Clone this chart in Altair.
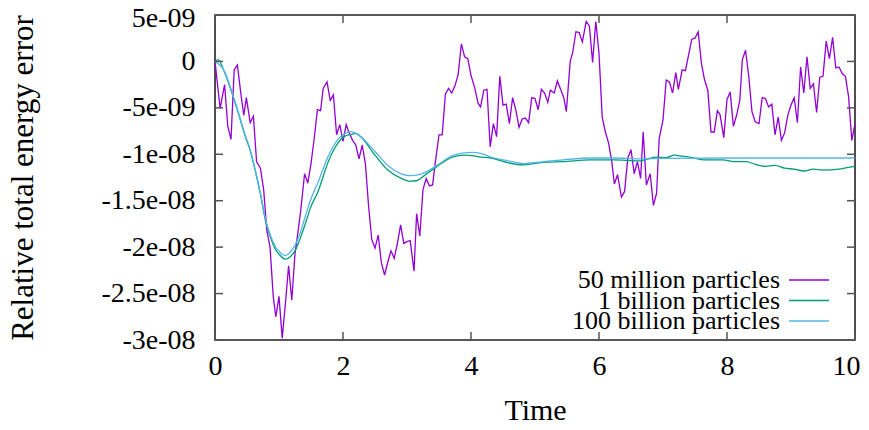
import altair as alt
import pandas as pd

# ---- data (values in units of 1e-9) ----
t50 = [0.00,0.08,0.15,0.20,0.25,0.30,0.35,0.41,0.45,0.49,0.55,0.60,0.65,0.71,0.76,0.81,0.86,0.91,0.95,1.00,
       1.05,1.10,1.15,1.20,1.25,1.30,1.34,1.40,1.45,1.50,1.55,1.60,1.65,1.69,1.75,1.80,1.85,1.90,1.95,2.00,
       2.05,2.09,2.15,2.20,2.25,2.30,2.35,2.40,2.45,2.50,2.55,2.60,2.65,2.70,2.75,2.80,2.85,2.90,2.95,3.00,
       3.05,3.11,3.15,3.20,3.25,3.30,3.35,3.40,3.44,3.50,3.55,3.60,3.65,3.70,3.75,3.80,3.85,3.90,3.95,4.00,
       4.06,4.11,4.15,4.20,4.25,4.30,4.35,4.40,4.45,4.50,4.55,4.60,4.65,4.70,4.75,4.80,4.85,4.90,4.95,5.00,
       5.05,5.10,5.15,5.20,5.24,5.30,5.35,5.40,5.45,5.49,5.55,5.59,5.64,5.69,5.74,5.80,5.85,5.90,5.95,6.00,
       6.05,6.10,6.15,6.20,6.24,6.29,6.35,6.40,6.45,6.50,6.55,6.60,6.65,6.69,6.74,6.80,6.85,6.90,6.94,7.00,
       7.05,7.10,7.15,7.20,7.24,7.30,7.35,7.40,7.45,7.50,7.55,7.60,7.65,7.70,7.75,7.80,7.85,7.89,7.95,8.00,
       8.05,8.10,8.15,8.20,8.24,8.29,8.34,8.39,8.44,8.50,8.55,8.60,8.65,8.70,8.75,8.80,8.85,8.90,8.95,9.00,
       9.05,9.10,9.15,9.20,9.25,9.30,9.35,9.40,9.45,9.50,9.55,9.60,9.65,9.70,9.75,9.80,9.85,9.90,9.95,10.00]
v50 = [0.0,-5.05,-2.5,-7.0,-8.4,-0.9,-0.4,-3.8,-5.8,-3.9,-6.6,-5.9,-10.8,-11.5,-13.8,-18.2,-20.0,-25.3,-27.5,-25.3,
       -29.8,-26.1,-22.0,-25.7,-20.7,-18.2,-16.0,-12.1,-13.1,-11.0,-8.3,-5.2,-5.3,-2.9,-2.2,-4.2,-3.6,-7.9,-6.8,-8.6,
       -6.8,-7.6,-8.5,-9.0,-10.5,-9.0,-11.0,-15.6,-19.2,-20.1,-18.7,-21.7,-23.0,-21.6,-20.4,-21.2,-19.6,-17.6,-19.6,-19.4,
       -19.3,-22.6,-16.4,-18.8,-13.8,-12.6,-13.4,-13.3,-11.0,-7.9,-7.9,-3.5,-2.9,-3.4,-2.6,-1.4,1.9,0.5,0.3,-1.5,
       -2.9,-4.5,-4.9,-3.1,-3.0,-9.2,-6.7,-8.1,-1.6,-4.7,-4.6,-6.7,-3.9,-5.2,-7.1,-6.2,-6.1,-6.6,-3.9,-4.0,
       -5.2,-3.0,-3.4,-4.4,-3.1,-3.4,-2.1,-3.0,-3.9,-5.4,0.0,1.0,3.2,3.1,2.1,4.3,3.8,-0.1,4.3,0.9,
       -6.0,-7.6,-8.8,-10.8,-13.2,-12.2,-14.6,-14.0,-10.4,-9.5,-12.1,-10.8,-12.6,-7.6,-13.3,-12.1,-15.5,-14.2,-8.3,-6.3,
       -2.0,-2.2,-3.4,-1.2,-3.0,-0.9,-1.0,0.7,2.4,2.5,3.2,-0.2,-2.0,-3.1,-7.6,-7.6,-5.3,-5.7,-8.2,-4.1,
       -3.3,-7.0,-5.8,-4.2,0.2,1.2,-1.6,-5.4,-6.5,-6.7,-3.9,-4.0,-4.9,-4.6,-7.9,-6.0,-8.5,-7.7,-5.8,-4.7,
       -3.9,-6.6,-0.6,-3.4,0.5,-2.9,-2.4,-5.5,-1.7,-1.6,2.2,0.3,2.6,-0.7,-0.6,-1.3,-1.6,-3.8,-8.5,-6.7]

t1b = [0.00,0.05,0.15,0.27,0.37,0.47,0.55,0.63,0.71,0.79,0.87,0.94,1.02,1.10,1.18,1.25,1.33,1.41,1.49,1.61,
       1.77,1.92,2.02,2.13,2.20,2.29,2.50,2.70,2.91,3.05,3.15,3.27,3.47,3.71,3.90,4.02,4.15,4.31,4.57,4.83,
       4.98,5.20,5.44,5.86,6.22,6.64,6.89,7.05,7.18,7.30,7.41,7.67,7.93,8.14,8.30,8.45,8.60,8.75,8.90,9.05,
       9.20,9.35,9.50,9.75,9.90,10.00]
v1b = [0.0,0.2,-1.2,-3.5,-5.7,-8.0,-9.6,-11.8,-14.3,-17.2,-19.0,-20.2,-20.9,-21.3,-21.0,-20.4,-19.1,-17.5,-15.8,-14.0,
       -10.8,-8.8,-8.1,-7.85,-7.75,-8.2,-10.1,-11.7,-12.6,-12.9,-12.85,-12.3,-11.3,-10.3,-10.1,-10.15,-10.3,-10.4,-10.9,-11.15,
       -11.0,-10.85,-10.8,-10.6,-10.6,-10.7,-10.3,-10.35,-10.1,-10.2,-10.3,-10.6,-10.6,-10.8,-10.8,-11.1,-11.3,-11.2,-11.5,-11.6,
       -11.8,-11.6,-11.7,-11.6,-11.4,-11.3]

t100b = [0.00,0.15,0.27,0.37,0.47,0.55,0.63,0.71,0.79,0.87,0.94,1.02,1.10,1.18,1.25,1.33,1.41,1.49,1.61,1.77,
         1.92,2.02,2.13,2.29,2.50,2.70,2.91,3.05,3.15,3.27,3.47,3.71,3.85,4.02,4.15,4.31,4.57,4.83,4.98,5.20,
         5.44,5.86,6.22,6.64,7.00,8.00,9.00,10.00]
v100b = [0.0,-1.1,-3.4,-5.6,-7.9,-9.5,-11.7,-14.2,-17.0,-18.8,-19.9,-20.6,-20.9,-20.5,-19.8,-18.5,-16.7,-15.0,-13.0,-10.2,
         -8.4,-7.8,-7.55,-8.2,-9.7,-11.2,-12.1,-12.3,-12.25,-12.0,-11.2,-10.15,-9.9,-9.8,-9.9,-10.3,-10.7,-11.0,-10.9,-10.75,
         -10.6,-10.4,-10.4,-10.5,-10.45,-10.4,-10.4,-10.4]

series_names = ["50 million particles", "1 billion particles", "100 billion particles"]
series_colors = ["#9400D3", "#009E73", "#56B4E9"]

x_ticks = [0, 2, 4, 6, 8, 10]
y_ticks = [5e-09, 0, -5e-09, -1e-08, -1.5e-08, -2e-08, -2.5e-08, -3e-08]
y_tick_labels = ["5e-09", "0", "-5e-09", "-1e-08", "-1.5e-08", "-2e-08", "-2.5e-08", "-3e-08"]

W, H = 640, 325
FONT = "Liberation Serif"

def frame(ts, vs):
    return pd.DataFrame({"t": ts, "v": [v * 1e-9 for v in vs]})

xscale = alt.Scale(domain=[0, 10], nice=False, zero=False)
yscale = alt.Scale(domain=[-3e-08, 5e-09], nice=False, zero=False)

label_expr = "".join(
    f"abs(datum.value - ({v})) < 1e-12 ? '{l}' : " for v, l in zip(y_ticks, y_tick_labels)
) + "''"

xaxis = alt.Axis(values=x_ticks, title="Time", ticks=False, tickSize=0, domain=False, grid=False,
                 labelFlush=False,
                 labelOffset={"condition": {"test": "datum.value > 9", "value": -9}, "value": 0},
                 labelFont=FONT, labelFontSize=28, labelPadding=12, labelColor="black",
                 titleFont=FONT, titleFontSize=30, titleFontWeight="normal", titleColor="black",
                 titleY=70, titleBaseline="middle")
yaxis = alt.Axis(values=y_ticks, title="Relative total energy error", ticks=False, tickSize=0,
                 domain=False, grid=False, labelExpr=label_expr, labelFlush=False,
                 labelOffset={"condition": {"test": "datum.value > 4e-9", "value": 3}, "value": 0},
                 labelFont=FONT, labelFontSize=28, labelPadding=20, labelColor="black",
                 titleFont=FONT, titleFontSize=31, titleFontWeight="normal", titleColor="black",
                 titleAngle=-90, titleX=-192, titleY=H / 2, titleAlign="center", titleBaseline="middle")

X = lambda f: alt.X(f, scale=xscale, axis=xaxis)
Y = lambda f: alt.Y(f, scale=yscale, axis=yaxis)

layers = []
for i, (ts, vs) in enumerate([(t50, v50), (t1b, v1b), (t100b, v100b)]):
    layers.append(
        alt.Chart(frame(ts, vs)).mark_line(
            color=series_colors[i], strokeWidth=1.3, clip=True,
            interpolate="linear" if i == 0 else "monotone"
        ).encode(x=X("t:Q"), y=Y("v:Q"))
    )

# inward tick marks on all four sides (gnuplot style)
xt = pd.DataFrame({"t": x_ticks})
yt = pd.DataFrame({"v": y_ticks})
tick_style = dict(color="#555555", strokeWidth=1.5)
ticks = [
    alt.Chart(xt).mark_rule(**tick_style).encode(x=X("t:Q"), y=alt.value(H), y2=alt.value(H - 8)),
    alt.Chart(xt).mark_rule(**tick_style).encode(x=X("t:Q"), y=alt.value(0), y2=alt.value(8)),
    alt.Chart(yt).mark_rule(**tick_style).encode(y=Y("v:Q"), x=alt.value(0), x2=alt.value(8)),
    alt.Chart(yt).mark_rule(**tick_style).encode(y=Y("v:Q"), x=alt.value(W - 8), x2=alt.value(W)),
]

# manual legend (label left, sample line right)
leg = pd.DataFrame({"name": series_names, "color": series_colors, "i": [0, 1, 2]})
leg_base = alt.Chart(leg).transform_calculate(ly="265 + datum.i * 20.5")
leg_text = leg_base.mark_text(font=FONT, fontSize=26, align="right", baseline="middle",
                              color="black").encode(
    x=alt.value(565), y=alt.Y("ly:Q", scale=None), text="name:N")
leg_line = leg_base.mark_rule(strokeWidth=1.3).encode(
    x=alt.value(574), x2=alt.value(614), y=alt.Y("ly:Q", scale=None),
    color=alt.Color("color:N", scale=None))

chart = alt.layer(*layers, *ticks, leg_text, leg_line).properties(
    width=W, height=H,
    background="white",
    autosize=alt.AutoSizeParams(type="none"),
    padding={"left": 207, "top": 7, "right": 6, "bottom": 82},
).configure_view(stroke="#222222", strokeWidth=1.6)

chart.save("out.html", embed_options={"renderer": "svg", "actions": False})
